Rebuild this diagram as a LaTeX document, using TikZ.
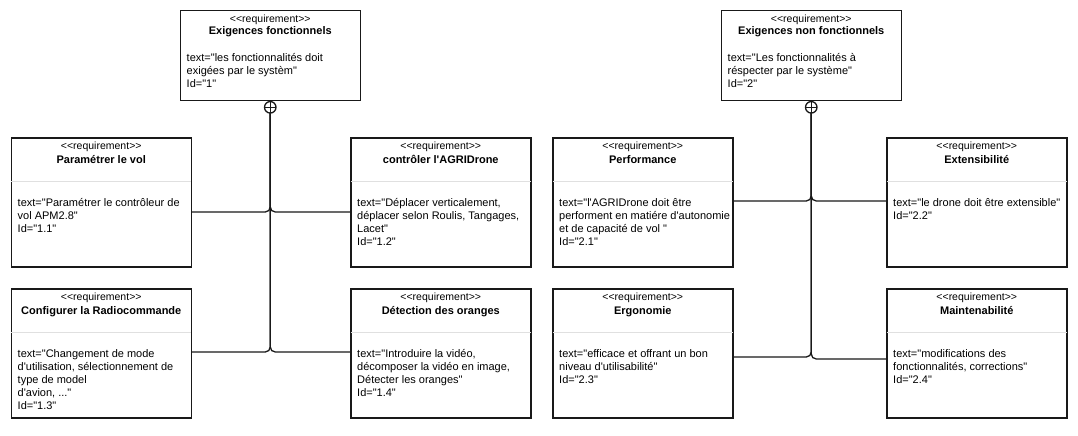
\documentclass[tikz,border=0pt]{standalone}
\usepackage{fontspec}
\setmainfont{Liberation Sans}[Ligatures=TeXOff]
\usetikzlibrary{calc}

\tikzset{
  reqbox/.style={draw=black!90, line width=1.5pt, fill=white, minimum width=180pt,
    inner sep=0pt, anchor=north west},
  sepline/.style={draw=black!12, line width=1pt},
  stereo/.style={font=\fontsize{10.5}{13}\selectfont, anchor=base, inner sep=0pt},
  rtitle/.style={font=\fontsize{11}{13}\selectfont\bfseries, anchor=base, inner sep=0pt},
  rbody/.style={font=\fontsize{11}{13}\selectfont, anchor=base west, inner sep=0pt},
  conn/.style={draw=black!90, line width=1.3pt, rounded corners=5pt},
  cplus/.style={circle, draw=black!90, line width=1.3pt, fill=white, minimum size=11.5pt,
    inner sep=0pt,
    path picture={\draw[line width=1.3pt, black!90]
      (path picture bounding box.north) -- (path picture bounding box.south)
      (path picture bounding box.west) -- (path picture bounding box.east);}},
}

\newcommand\bodytext[1]{\begin{tabular}[t]{@{}l@{}}#1\end{tabular}}

% name, x, y, title, body
\newcommand\childreq[5]{%
  \node[reqbox, minimum height=129pt] (#1) at (#2,#3) {};
  \draw[sepline] ([xshift=0.8pt,yshift=-44pt]#1.north west) -- ([xshift=-0.8pt,yshift=-44pt]#1.north east);
  \node[stereo] (#1-st) at ([yshift=-12pt]#1.north) {<<requirement>>};
  \node[rtitle] (#1-ti) at ([yshift=-26pt]#1.north) {#4};
  \node[rbody] (#1-tx) at ([xshift=7pt,yshift=-69pt]#1.north west) {\bodytext{#5}};
}

% name, x, y, title, body
\newcommand\parentreq[5]{%
  \node[reqbox, minimum height=89.5pt] (#1) at (#2,#3) {};
  \node[stereo] (#1-st) at ([yshift=-12.3pt]#1.north) {<<requirement>>};
  \node[rtitle] (#1-ti) at ([yshift=-25pt]#1.north) {#4};
  \node[rbody] (#1-tx) at ([xshift=7pt,yshift=-52pt]#1.north west) {\bodytext{#5}};
}

\begin{document}
\begin{tikzpicture}[x=1pt, y=-1pt]
  \useasboundingbox[fill=white] (0,0) rectangle (1078,436);

  % ---------- left group ----------
  \parentreq{p1}{179.5}{10}{Exigences fonctionnels}
    {text="les fonctionnalités doit\\exigées par le systèm"\\Id="1"}
  \childreq{c11}{10.5}{137}{Paramétrer le vol}
    {text="Paramétrer le contrôleur de\\vol APM2.8"\\Id="1.1"}
  \childreq{c12}{350}{137}{contrôler l'AGRIDrone}
    {text="Déplacer verticalement,\\déplacer selon Roulis, Tangages,\\Lacet"\\Id="1.2"}
  \childreq{c13}{10.5}{288}{Configurer la Radiocommande}
    {text="Changement de mode\\d'utilisation, sélectionnement de\\type de model\\d'avion, ..."\\Id="1.3"}
  \childreq{c14}{350}{288}{Détection des oranges}
    {text="Introduire la vidéo,\\décomposer la vidéo en image,\\Détecter les oranges"\\Id="1.4"}

  \draw[conn] ([yshift=-75pt]c11.north east) -| (p1.south);
  \draw[conn] ([yshift=-75pt]c12.north west) -| (p1.south);
  \draw[conn] ([yshift=-64pt]c13.north east) -| (p1.south);
  \draw[conn] ([yshift=-64pt]c14.north west) -| (p1.south);
  \node[cplus] (p1-cp) at ([yshift=-6.3pt]p1.south) {};

  % ---------- right group ----------
  \parentreq{p2}{720.5}{10}{Exigences non fonctionnels}
    {text="Les fonctionnalités à\\réspecter par le système"\\Id="2"}
  \childreq{c21}{552}{137}{Performance}
    {text="l'AGRIDrone doit être\\performent en matiére d'autonomie\\et de capacité de vol "\\Id="2.1"}
  \childreq{c22}{886}{137}{Extensibilité}
    {text="le drone doit être extensible"\\Id="2.2"}
  \childreq{c23}{552}{288}{Ergonomie}
    {text="efficace et offrant un bon\\niveau d'utilisabilité"\\Id="2.3"}
  \childreq{c24}{886}{288}{Maintenabilité}
    {text="modifications des\\fonctionnalités, corrections"\\Id="2.4"}

  \draw[conn] ([yshift=-64pt]c21.north east) -| (p2.south);
  \draw[conn] ([yshift=-64pt]c22.north west) -| (p2.south);
  \draw[conn] ([yshift=-69pt]c23.north east) -| (p2.south);
  \draw[conn] ([yshift=-71pt]c24.north west) -| (p2.south);
  \node[cplus] (p2-cp) at ([yshift=-6.3pt]p2.south) {};
\end{tikzpicture}
\end{document}
